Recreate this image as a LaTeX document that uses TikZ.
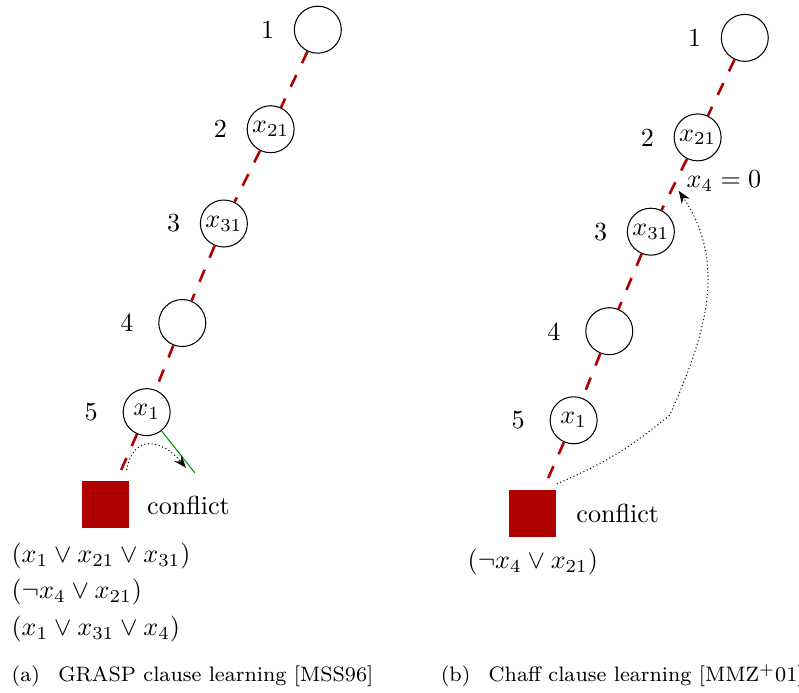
\documentclass[tikz,border=0pt]{standalone}
\usepackage{tikz}
\usetikzlibrary{arrows.meta}
\usetikzlibrary{calc,positioning}
\definecolor{darkred}{RGB}{176,0,0}
\definecolor{darkgreen}{RGB}{0,150,0}

\begin{document}
\begin{tikzpicture}[vnode/.style = {circle, draw=black, solid, thin, minimum size=18pt, inner sep=1pt},
		cnode/.style = {rectangle, fill=darkred, minimum size=18pt, inner sep=0pt},
		edge from parent/.style = {draw=darkred, line width=1pt, dash pattern=on 5pt off 5pt},
		level 1/.style={sibling distance=1.27cm, level distance=1.34cm},
		level 2/.style={sibling distance=1.26cm, level distance=1.27cm},
		level 3/.style={sibling distance=1.12cm, level distance=1.34cm},
		level 4/.style={sibling distance=0.96cm, level distance=1.20cm},
		level 5/.style={sibling distance=1.10cm, level distance=1.25cm},
		label distance=4pt]
	\useasboundingbox (0,0) rectangle (10.76,-9.32);

	\node [vnode, label=left:1] (a1) at (4.28,-0.40) {}
	child {node [vnode, label=left:2] (a2) {$x_{21}$}
			child {node [vnode, label=left:3] (a3) {$x_{31}$}
					child {node [vnode, label={[label distance=6pt]left:4}] (a4) {}
							child {node [vnode, label={[label distance=6pt]left:5}] (a5) {$x_1$}
									child {node [cnode] (asq) {}}
									child [missing]
								}
							child [missing]
						}
					child [missing]
				}
			child [missing]
		}
	child [missing]
	;
	\node [right=0.11cm of asq] (aconf) {conflict};
	\node [below right=0.06cm and -1.07cm of asq.south west, align=left] (acl)
	{$(x_1 \vee x_{21} \vee x_{31})$\\[2pt] $(\neg x_4 \vee x_{21})$\\[2pt] $(x_1 \vee x_{31} \vee x_4)$};
	\coordinate (agr) at ($(a5)+(0.65,-0.82)$);
	\coordinate (asta) at ($(a5)+(-0.27,-0.78)$);
	\coordinate (aend) at ($(a5)+(0.53,-0.75)$);
	\draw [darkgreen] (a5) -- (agr);
	\draw [densely dotted, -{Stealth}] (asta) to[out=80, in=130, looseness=1.6] (aend);

	\node [vnode, label=left:1] (b1) at (10.03,-0.51) {}
	child {node [vnode, label=left:2] (b2) {$x_{21}$}
			child {node [vnode, label=left:3] (b3) {$x_{31}$}
					child {node [vnode, label={[label distance=6pt]left:4}] (b4) {}
							child {node [vnode, label={[label distance=6pt]left:5}] (b5) {$x_1$}
									child {node [cnode] (bsq) {}}
									child [missing]
								}
							child [missing]
						}
					child [missing]
				}
			child [missing]
		}
	child [missing]
	;
	\node [right=0.14cm of bsq] (bconf) {conflict};
	\node [below=0.03cm of bsq] (bcl) {$(\neg x_4 \vee x_{21})$};
	\node [below right=0.1cm and -0.5cm of b2] (basg) {$x_4 = 0$};
	\coordinate (bsta) at ($(bsq.north east)+(0,0.07)$);
	\coordinate (bkink) at (9.02,-5.59);
	\coordinate (bend) at (9.14,-2.57);
	\draw [densely dotted, -{Stealth}] (bsta) to[bend right=8] (bkink) to[out=66, in=-56] (bend);

	\node [anchor=base west, inner sep=0pt, font=\footnotesize] (capa) at (0.15,-9.18)
	{(a)\hspace{7pt}GRASP clause learning [MSS96]};
	\node [anchor=base west, inner sep=0pt, font=\footnotesize] (capb) at (5.93,-9.18)
	{(b)\hspace{7pt}Chaff clause learning [MMZ$^+$01]};
\end{tikzpicture}
\end{document}
